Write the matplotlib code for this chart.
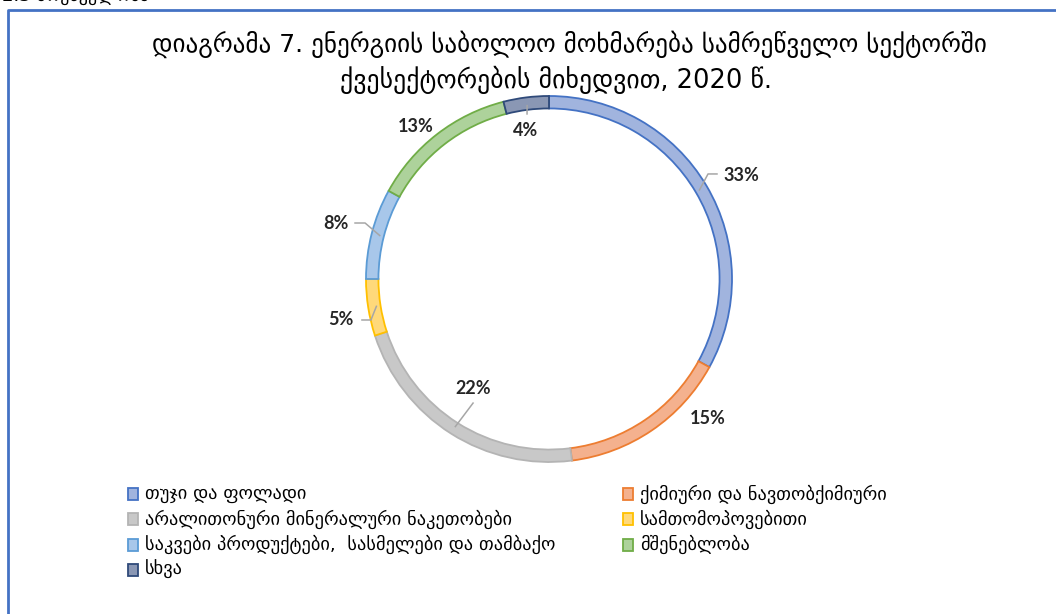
import matplotlib
matplotlib.use("Agg")
import matplotlib.pyplot as plt
from matplotlib.patches import Rectangle
from matplotlib.lines import Line2D
import numpy as np

# Final energy consumption in industry by sub-sector, 2020 (%)
categories = [
    "თუჯი და ფოლადი",
    "ქიმიური და ნავთობქიმიური",
    "არალითონური მინერალური ნაკეთობები",
    "სამთომოპოვებითი",
    "საკვები პროდუქტები,  სასმელები და თამბაქო",
    "მშენებლობა",
    "სხვა",
]
shares = [33, 15, 22, 5, 8, 13, 4]

title_lines = [
    "დიაგრამა 7. ენერგიის საბოლოო მოხმარება სამრეწველო სექტორში",
    "ქვესექტორების მიხედვით, 2020 წ.",
]

fills = ["#a1b4de", "#f4b18e", "#c8c8c8", "#ffd97a", "#a8c7ea", "#add29b", "#8a97b4"]
edges = ["#4472c4", "#ed7d31", "#b4b4b4", "#ffc000", "#5b9bd5", "#70ad47", "#2f4a7a"]

GEO = ["DejaVu Sans"]

W, H = 1056, 614
fig = plt.figure(figsize=(W / 100, H / 100), dpi=100)
fig.patch.set_facecolor("white")

# ring axes: unit radius = 183 px, centred at (549, 279) px from top-left
R = 183.0
cx, cy = 549.0, 279.0
L = 1.6
side = 2 * L * R
ax = fig.add_axes([(cx - side / 2) / W, (H - cy - side / 2) / H, side / W, side / H])

wedges, _ = ax.pie(
    shares, startangle=90, counterclock=False, colors=fills,
    wedgeprops=dict(width=0.068, linewidth=1.3),
)
for w, ec in zip(wedges, edges):
    w.set_edgecolor(ec)
ax.set_xlim(-L, L)
ax.set_ylim(-L, L)
ax.set_aspect("auto")
ax.axis("off")

# data labels (text centre, data units) and optional leader path
label_pos = [(1.049, 0.568), (0.869, -0.760), (-0.415, -0.601), (-1.137, -0.224),
             (-1.164, 0.301), (-0.727, 0.831), (-0.126, 0.809)]
leaders = {
    0: [(0.869, 0.574), (0.918, 0.574)],
    2: [(-0.415, -0.678)],
    3: [(-0.973, -0.224), (-1.022, -0.224)],
    4: [(-1.005, 0.306), (-1.060, 0.306)],
    6: [(-0.120, 0.902)],
}
total = float(sum(shares))
cum = 0.0
for i, v in enumerate(shares):
    mid = cum + v / 2.0
    cum += v
    ang = np.deg2rad(90 - 360 * mid / total)
    if i in leaders:
        r0 = 0.955
        pts = [(r0 * np.cos(ang), r0 * np.sin(ang))] + leaders[i]
        xs, ys = zip(*pts)
        ax.add_line(Line2D(xs, ys, color="#a6a6a6", lw=1.1, zorder=3))
    tx, ty = label_pos[i]
    ax.text(tx, ty, f"{v}%", ha="center", va="center", fontsize=13,
            fontweight="bold", family=["Lato", "DejaVu Sans"], color="#262626")

# title
fig.text(569 / W, 1 - 44 / H, title_lines[0], ha="center", va="center",
         fontsize=18, family=GEO, color="#000000")
fig.text(556 / W, 1 - 80 / H, title_lines[1], ha="center", va="center",
         fontsize=18.5, family=GEO, color="#000000")

# legend laid out row by row in two columns
col_x = [133, 628]
row_y0, row_dy = 494, 25.3
for i, (name, fc, ec) in enumerate(zip(categories, fills, edges)):
    r, c = divmod(i, 2)
    x = col_x[c]
    y = row_y0 + r * row_dy
    fig.patches.append(Rectangle(((x - 5) / W, 1 - (y + 6) / H), 10 / W, 12 / H,
                                 transform=fig.transFigure, facecolor=fc,
                                 edgecolor=ec, linewidth=1.3))
    fig.text((x + 12) / W, 1 - y / H, name, ha="left", va="center",
             fontsize=13.2, family=GEO, color="#000000")

# surrounding frame (left and top edges)
fig.add_artist(Line2D([7.5 / W, 7.5 / W, 1.0], [0.0, 1 - 10 / H, 1 - 10 / H],
                      transform=fig.transFigure, color="#4472c4", lw=2))
# running heading above the frame, cut by the page edge
fig.text(2 / W, 1 - 5 / H, "2.3 მრეწველობა", ha="left", va="bottom",
         fontsize=13, family=GEO, color="#000000")

fig.savefig("out.png", dpi=100, facecolor="white")
